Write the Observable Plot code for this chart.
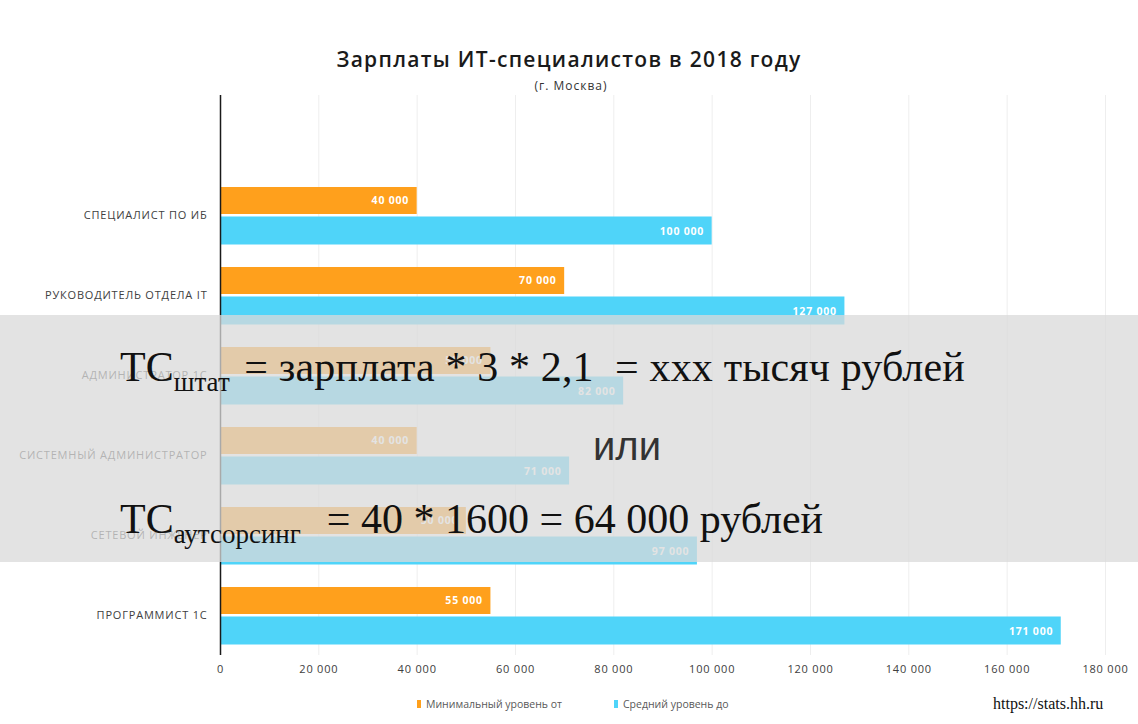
<!DOCTYPE html>
<html>
<head>
<meta charset="utf-8">
<script src="https://cdn.jsdelivr.net/npm/d3@7"></script>
<script src="https://cdn.jsdelivr.net/npm/@observablehq/plot@0.6"></script>
<style>
  html, body { margin: 0; padding: 0; background: #ffffff; }
  #root { position: relative; width: 1138px; height: 724px; overflow: hidden; background: #fff; font-family: "Open Sans", sans-serif; }
  #title { position: absolute; left: 0; width: 1138px; top: 46px; text-align: center; font-size: 21px; letter-spacing: 1.3px; font-weight: 600; color: #1a1a1a; line-height: 26px; }
  #subtitle { position: absolute; left: 0; width: 1142px; top: 78px; text-align: center; font-size: 12px; letter-spacing: 1px; color: #333; line-height: 16px; }
  #chart { position: absolute; left: 0; top: 90px; }
  #chart svg text { letter-spacing: 0.8px; }
  #legend { position: absolute; top: 697px; left: 0; width: 1138px; height: 16px; font-size: 10.5px; color: #595959; }
  .lg { position: absolute; display: flex; align-items: center; white-space: nowrap; }
  .sw { display: inline-block; width: 4px; height: 8px; margin-right: 5px; }
  #source { position: absolute; left: 993px; top: 695px; font-family: "Liberation Serif", serif; font-size: 16px; color: #111; }
  #overlay { position: absolute; left: 0; top: 315px; width: 1138px; height: 247px; background: rgba(218,218,218,0.75); }
  .formula { position: absolute; left: 120px; font-family: "Liberation Serif", serif; font-size: 42px; line-height: 42px; color: #111; white-space: nowrap; }
  .sub { font-size: 27px; position: relative; top: 10px; }
  #ili { position: absolute; left: 0; width: 1254px; text-align: center; top: 111px; font-family: "Liberation Sans", sans-serif; font-size: 40px; line-height: 40px; color: #333; }
</style>
</head>
<body>
<div id="root">
  <div id="title"></div>
  <div id="subtitle"></div>
  <div id="chart"></div>
  <div id="legend"></div>
  <div id="source"></div>
  <div id="overlay">
    <div class="formula" id="f1" style="top:31px"></div>
    <div id="ili"></div>
    <div class="formula" id="f2" style="top:183px"></div>
  </div>
</div>
<script>
// ---- data ----
const titleText = "Зарплаты ИТ-специалистов в 2018 году";
const subtitleText = "(г. Москва)";
const categories = [
  "СПЕЦИАЛИСТ ПО ИБ",
  "РУКОВОДИТЕЛЬ ОТДЕЛА IT",
  "АДМИНИСТРАТОР 1С",
  "СИСТЕМНЫЙ АДМИНИСТРАТОР",
  "СЕТЕВОЙ ИНЖЕНЕР",
  "ПРОГРАММИСТ 1С"
];
const minLevel = [40000, 70000, 55000, 40000, 50000, 55000];
const avgLevel = [100000, 127000, 82000, 71000, 97000, 171000];
const seriesNames = ["Минимальный уровень от", "Средний уровень до"];
const seriesColors = ["#FFA01C", "#4FD4F9"];
const xTicks = [0, 20000, 40000, 60000, 80000, 100000, 120000, 140000, 160000, 180000];
const sourceText = "https://stats.hh.ru";
const formula1 = {main: "TC", sub: "штат", rest: "\u00a0= зарплата * 3 * 2,1 \u00a0= ххх тысяч рублей"};
const formula2 = {main: "TC", sub: "аутсорсинг", rest: "\u00a0\u00a0= 40 * 1600 = 64 000 рублей"};
const orText = "или";

// ---- build ----
const fmt = d => d3.format(",")(d).replace(/,/g, "\u00a0");
const rowsMin = categories.map((c, i) => ({category: c, value: minLevel[i], series: seriesNames[0]}));
const rowsAvg = categories.map((c, i) => ({category: c, value: avgLevel[i], series: seriesNames[1]}));

document.getElementById("title").textContent = titleText;
document.getElementById("subtitle").textContent = subtitleText;
document.getElementById("source").textContent = sourceText;

const chart = Plot.plot({
  width: 1138,
  height: 600,
  marginLeft: 220,
  marginRight: 33,
  marginTop: 5,
  marginBottom: 35,
  style: {fontFamily: "Open Sans, sans-serif", fontSize: "11px", color: "#404040", background: "transparent"},
  x: {domain: [0, 180000], ticks: xTicks, tickFormat: fmt, tickSize: 0, tickPadding: 10, label: null},
  y: {domain: categories, paddingInner: 0, paddingOuter: 0.5, align: 1, tickSize: 0, tickPadding: 13, label: null},
  color: {domain: seriesNames, range: seriesColors},
  marks: [
    Plot.ruleX(xTicks.slice(1), {stroke: "#eeeeee", strokeWidth: 1}),
    Plot.barX(rowsMin, {x: "value", y: "category", fill: "series", insetTop: 12, insetBottom: 41}),
    Plot.barX(rowsAvg, {x: "value", y: "category", fill: "series", insetTop: 41.5, insetBottom: 10.5}),
    Plot.text(rowsMin, {x: "value", y: "category", text: d => fmt(d.value), dx: -8, dy: -14.5, textAnchor: "end", fill: "white", fontWeight: "bold", fontSize: 10.5}),
    Plot.text(rowsAvg, {x: "value", y: "category", text: d => fmt(d.value), dx: -8, dy: 16, textAnchor: "end", fill: "white", fontWeight: "bold", fontSize: 10.5}),
    Plot.ruleX([0], {stroke: "#1a1a1a", strokeWidth: 1.5})
  ]
});
document.getElementById("chart").appendChild(chart);

// legend
const legend = document.getElementById("legend");
const lgX = [417, 614];
seriesNames.forEach((name, i) => {
  const el = document.createElement("div");
  el.className = "lg";
  el.style.left = lgX[i] + "px";
  el.innerHTML = `<span class="sw" style="background:${seriesColors[i]}"></span><span>${name}</span>`;
  legend.appendChild(el);
});

// overlay formulas
function setFormula(id, f, gap, spacing) {
  const el = document.getElementById(id);
  el.innerHTML = "";
  el.append(f.main);
  const s = document.createElement("span");
  s.className = "sub";
  s.style.marginRight = gap + "px";
  s.textContent = f.sub;
  el.append(s);
  const r = document.createElement("span");
  r.style.letterSpacing = spacing + "px";
  r.textContent = f.rest;
  el.append(r);
}
setFormula("f1", formula1, 4, 0.15);
setFormula("f2", formula2, 5, 0);
document.getElementById("ili").textContent = orText;
</script>
</body>
</html>
